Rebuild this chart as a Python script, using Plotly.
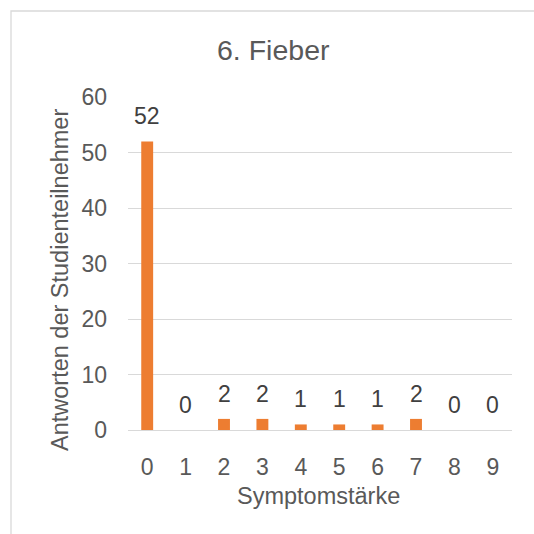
import plotly.graph_objects as go

categories = ["0", "1", "2", "3", "4", "5", "6", "7", "8", "9"]
values = [52, 0, 2, 2, 1, 1, 1, 2, 0, 0]
y_ticks = [0, 10, 20, 30, 40, 50, 60]
title_text = "6. Fieber"
x_title = "Symptomstärke"
y_title = "Antworten der Studienteilnehmer"

W, H = 534, 534
L, R, T, B = 128, 22, 97, 104
pw, ph = W - L - R, H - T - B

def px_x(px):
    return (px - L) / pw

def px_y(py):
    return (H - B - py) / ph

FONT = "Liberation Sans, Arial, sans-serif"
GREY = "#595959"

fig = go.Figure()
fig.add_trace(go.Bar(
    x=categories, y=values, width=0.31,
    marker=dict(color="#ED7D31", line=dict(width=0)),
    hoverinfo="skip",
))

annotations = []
for c, v in zip(categories, values):
    annotations.append(dict(
        x=c, y=v, xref="x", yref="y", text=str(v), showarrow=False,
        yshift=25, yanchor="middle", xanchor="center",
        font=dict(family=FONT, size=23, color="#404040"),
    ))

annotations.append(dict(
    x=px_x(60), y=px_y(280), xref="paper", yref="paper", text=y_title,
    textangle=-90, showarrow=False, xanchor="center", yanchor="middle",
    font=dict(family=FONT, size=23.5, color=GREY),
))
annotations.append(dict(
    x=px_x(318), y=px_y(496), xref="paper", yref="paper", text=x_title,
    showarrow=False, xanchor="center", yanchor="middle",
    font=dict(family=FONT, size=23.5, color=GREY),
))
annotations.append(dict(
    x=px_x(273.5), y=px_y(49.5), xref="paper", yref="paper", text=title_text,
    showarrow=False, xanchor="center", yanchor="middle",
    font=dict(family=FONT, size=28.5, color=GREY),
))

fig.update_layout(
    width=W, height=H,
    margin=dict(l=L, r=R, t=T, b=B, pad=0),
    paper_bgcolor="white", plot_bgcolor="white",
    showlegend=False,
    annotations=annotations,
    shapes=[dict(
        type="rect", xref="paper", yref="paper",
        x0=px_x(11), x1=px_x(560), y0=px_y(560), y1=px_y(11),
        line=dict(color="#D9D9D9", width=1.3), fillcolor="rgba(0,0,0,0)",
        layer="below",
    )],
    xaxis=dict(
        type="category", range=[-0.5, 9.5],
        showgrid=False, showline=True, linecolor="#D9D9D9", linewidth=1.3,
        ticks="", tickfont=dict(family=FONT, size=23, color=GREY),
        ticklabelstandoff=16, zeroline=False,
    ),
    yaxis=dict(
        range=[0, 60], tickvals=y_ticks,
        showgrid=True, gridcolor="#D9D9D9", gridwidth=1.3,
        showline=False, zeroline=False, ticks="",
        tickfont=dict(family=FONT, size=23, color=GREY),
        ticklabelstandoff=20,
    ),
)

fig.write_html("out.html")
